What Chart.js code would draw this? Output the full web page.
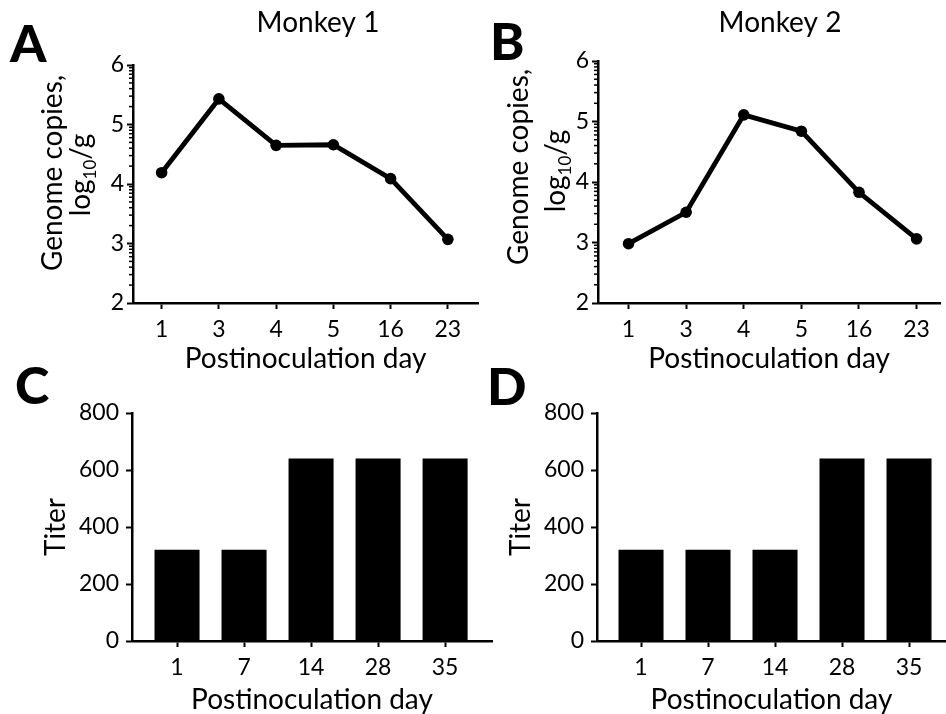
<!DOCTYPE html>
<html>
<head>
<meta charset="utf-8">
<script src="https://cdn.jsdelivr.net/npm/chart.js@4.4.1/dist/chart.umd.min.js"></script>
<style>
  html, body { margin: 0; padding: 0; background: #fff; overflow: hidden; width: 946px; height: 714px; }
  canvas { position: absolute; }
</style>
</head>
<body>
<canvas id="panelA" width="484" height="375" style="left:0;top:0"></canvas>
<canvas id="panelB" width="466" height="375" style="left:480px;top:0"></canvas>
<canvas id="panelC" width="495" height="359" style="left:0;top:355px"></canvas>
<canvas id="panelD" width="466" height="359" style="left:480px;top:355px"></canvas>
<script>
// data
const genomeDays = ['1', '3', '4', '5', '16', '23'];
const monkey1Genome = [4.19, 5.43, 4.65, 4.66, 4.09, 3.07];
const monkey2Genome = [2.98, 3.50, 5.11, 4.84, 3.83, 3.06];
const genomeTicks = [2, 3, 4, 5, 6];

const titerDays = ['1', '7', '14', '28', '35'];
const monkey1Titer = [320, 320, 640, 640, 640];
const monkey2Titer = [320, 320, 320, 640, 640];
const titerTicks = [0, 200, 400, 600, 800];

const FAMILY = 'Lato';
const tickFont = { family: FAMILY, size: 23 };
const titleFont = { family: FAMILY, size: 28, lineHeight: 1 };
const letterFont = '900 52px ' + FAMILY;

// free text: panel letters and monkey titles
const panelText = {
  id: 'panelText',
  afterDraw(chart, args, opts) {
    const ctx = chart.ctx;
    (opts.items || []).forEach(t => {
      ctx.save();
      ctx.font = t.font;
      ctx.fillStyle = '#000';
      ctx.textAlign = t.align || 'left';
      ctx.textBaseline = 'alphabetic';
      ctx.fillText(t.text, t.x, t.y);
      ctx.restore();
    });
  }
};

// two line rotated y title with subscript
const genomeTitle = {
  id: 'genomeTitle',
  afterDraw(chart, args, opts) {
    if (!opts.line1) return;
    const ctx = chart.ctx;
    const size = titleFont.size;
    const mainFont = size + 'px ' + FAMILY;
    const subFont = Math.round(size * 0.62) + 'px ' + FAMILY;
    ctx.save();
    ctx.fillStyle = '#000';
    ctx.textBaseline = 'alphabetic';

    ctx.save();
    ctx.font = mainFont;
    ctx.translate(opts.line1.x, opts.line1.y);
    ctx.rotate(-Math.PI / 2);
    ctx.textAlign = 'center';
    ctx.fillText('Genome copies,', 0, 0);
    ctx.restore();

    ctx.font = mainFont;
    const w1 = ctx.measureText('log').width;
    const w3 = ctx.measureText('/g').width;
    ctx.font = subFont;
    const w2 = ctx.measureText('10').width;
    let x = -(w1 + w2 + w3) / 2;
    ctx.translate(opts.line2.x, opts.line2.y);
    ctx.rotate(-Math.PI / 2);
    ctx.textAlign = 'left';
    ctx.font = mainFont;
    ctx.fillText('log', x, 0);
    x += w1;
    ctx.font = subFont;
    ctx.fillText('10', x, size * 0.22);
    x += w2;
    ctx.font = mainFont;
    ctx.fillText('/g', x, 0);
    ctx.restore();
  }
};

// minor log ticks on the genome axis
const logMinorTicks = {
  id: 'logMinorTicks',
  afterDraw(chart, args, opts) {
    if (!opts.show) return;
    const y = chart.scales.y;
    const ctx = chart.ctx;
    ctx.save();
    ctx.strokeStyle = '#000';
    ctx.lineWidth = 1.5;
    for (let d = y.min; d < y.max; d++) {
      for (let k = 2; k <= 9; k++) {
        const py = y.getPixelForValue(d + Math.log10(k));
        ctx.beginPath();
        ctx.moveTo(y.right - 4, py);
        ctx.lineTo(y.right, py);
        ctx.stroke();
      }
    }
    ctx.restore();
  }
};

Chart.register(panelText, genomeTitle, logMinorTicks);

function axisGrid() {
  return { display: true, offset: false, drawOnChartArea: false, drawTicks: true, tickLength: 6, tickColor: '#000', tickWidth: 2 };
}

function makePanel(canvasId, cfg) {
  const canvas = document.getElementById(canvasId);
  const W = canvas.width, H = canvas.height;
  const points = cfg.values.map((v, i) => ({ x: i, y: v }));
  const dataset = cfg.type === 'bar'
    ? { data: points, backgroundColor: '#000', borderWidth: 0, barPercentage: 0.672, categoryPercentage: 1 }
    : { data: points, borderColor: '#000', backgroundColor: '#000', borderWidth: 4.8,
        pointRadius: 5.8, pointBackgroundColor: '#000', pointBorderWidth: 0, tension: 0 };

  return new Chart(canvas, {
    type: cfg.type,
    data: { datasets: [dataset] },
    options: {
      responsive: false,
      animation: false,
      layout: { padding: { left: 0, top: cfg.area.top, right: W - cfg.area.right, bottom: 0 } },
      plugins: {
        legend: { display: false },
        tooltip: { enabled: false },
        panelText: { items: cfg.texts },
        genomeTitle: cfg.genomeTitle || {},
        logMinorTicks: { show: !!cfg.minorTicks }
      },
      scales: {
        x: {
          type: 'linear',
          offset: false,
          min: cfg.xMin,
          max: cfg.xMax,
          afterBuildTicks: s => { s.ticks = cfg.labels.map((_, i) => ({ value: i })); },
          afterFit: s => { s.height = H - cfg.area.bottom; },
          ticks: { callback: v => cfg.labels[v], font: tickFont, color: '#000', padding: 7, autoSkip: false, maxRotation: 0 },
          grid: axisGrid(),
          border: { display: true, color: '#000', width: 2.5 },
          title: { display: true, text: 'Postinoculation day', font: titleFont, color: '#000',
                   padding: { top: 0, bottom: cfg.xTitlePad } }
        },
        y: {
          min: cfg.yTicks[0],
          max: cfg.yTicks[cfg.yTicks.length - 1],
          afterBuildTicks: s => { s.ticks = cfg.yTicks.map(v => ({ value: v })); },
          afterFit: s => { s.width = cfg.area.left; },
          ticks: { font: tickFont, color: '#000', padding: cfg.yTickPad },
          grid: axisGrid(),
          border: { display: true, color: '#000', width: 2.5 },
          title: cfg.yTitle
            ? { display: true, text: cfg.yTitle, font: titleFont, color: '#000', padding: { top: cfg.yTitlePad, bottom: 0 } }
            : { display: false }
        }
      }
    }
  });
}

makePanel('panelA', {
  type: 'line', values: monkey1Genome, labels: genomeDays, yTicks: genomeTicks,
  area: { left: 133, top: 65, right: 483, bottom: 303 },
  xMin: -0.5, xMax: 5.53, xTitlePad: 2, yTickPad: 3, minorTicks: true,
  genomeTitle: { line1: { x: 62, y: 173 }, line2: { x: 90, y: 175 } },
  texts: [
    { text: 'A', x: 10, y: 62, font: letterFont },
    { text: 'Monkey 1', x: 318, y: 32, align: 'center', font: '28px ' + FAMILY }
  ]
});

makePanel('panelB', {
  type: 'line', values: monkey2Genome, labels: genomeDays, yTicks: genomeTicks,
  area: { left: 118, top: 61, right: 466, bottom: 303 },
  xMin: -0.53, xMax: 5.41, xTitlePad: 2, yTickPad: 3, minorTicks: true,
  genomeTitle: { line1: { x: 48, y: 167 }, line2: { x: 85, y: 171 } },
  texts: [
    { text: 'B', x: 10, y: 60, font: letterFont },
    { text: 'Monkey 2', x: 300, y: 32, align: 'center', font: '28px ' + FAMILY }
  ]
});

makePanel('panelC', {
  type: 'bar', values: monkey1Titer, labels: titerDays, yTicks: titerTicks,
  area: { left: 132, top: 58, right: 492, bottom: 286 },
  xMin: -0.672, xMax: 4.70, xTitlePad: 0, yTickPad: 7,
  yTitle: 'Titer', yTitlePad: 42,
  texts: [ { text: 'C', x: 15, y: 49, font: letterFont } ]
});

makePanel('panelD', {
  type: 'bar', values: monkey2Titer, labels: titerDays, yTicks: titerTicks,
  area: { left: 117, top: 58, right: 466, bottom: 286 },
  xMin: -0.657, xMax: 4.552, xTitlePad: 0, yTickPad: 7,
  yTitle: 'Titer', yTitlePad: 27,
  texts: [ { text: 'D', x: 7, y: 50, font: letterFont } ]
});
</script>
</body>
</html>
